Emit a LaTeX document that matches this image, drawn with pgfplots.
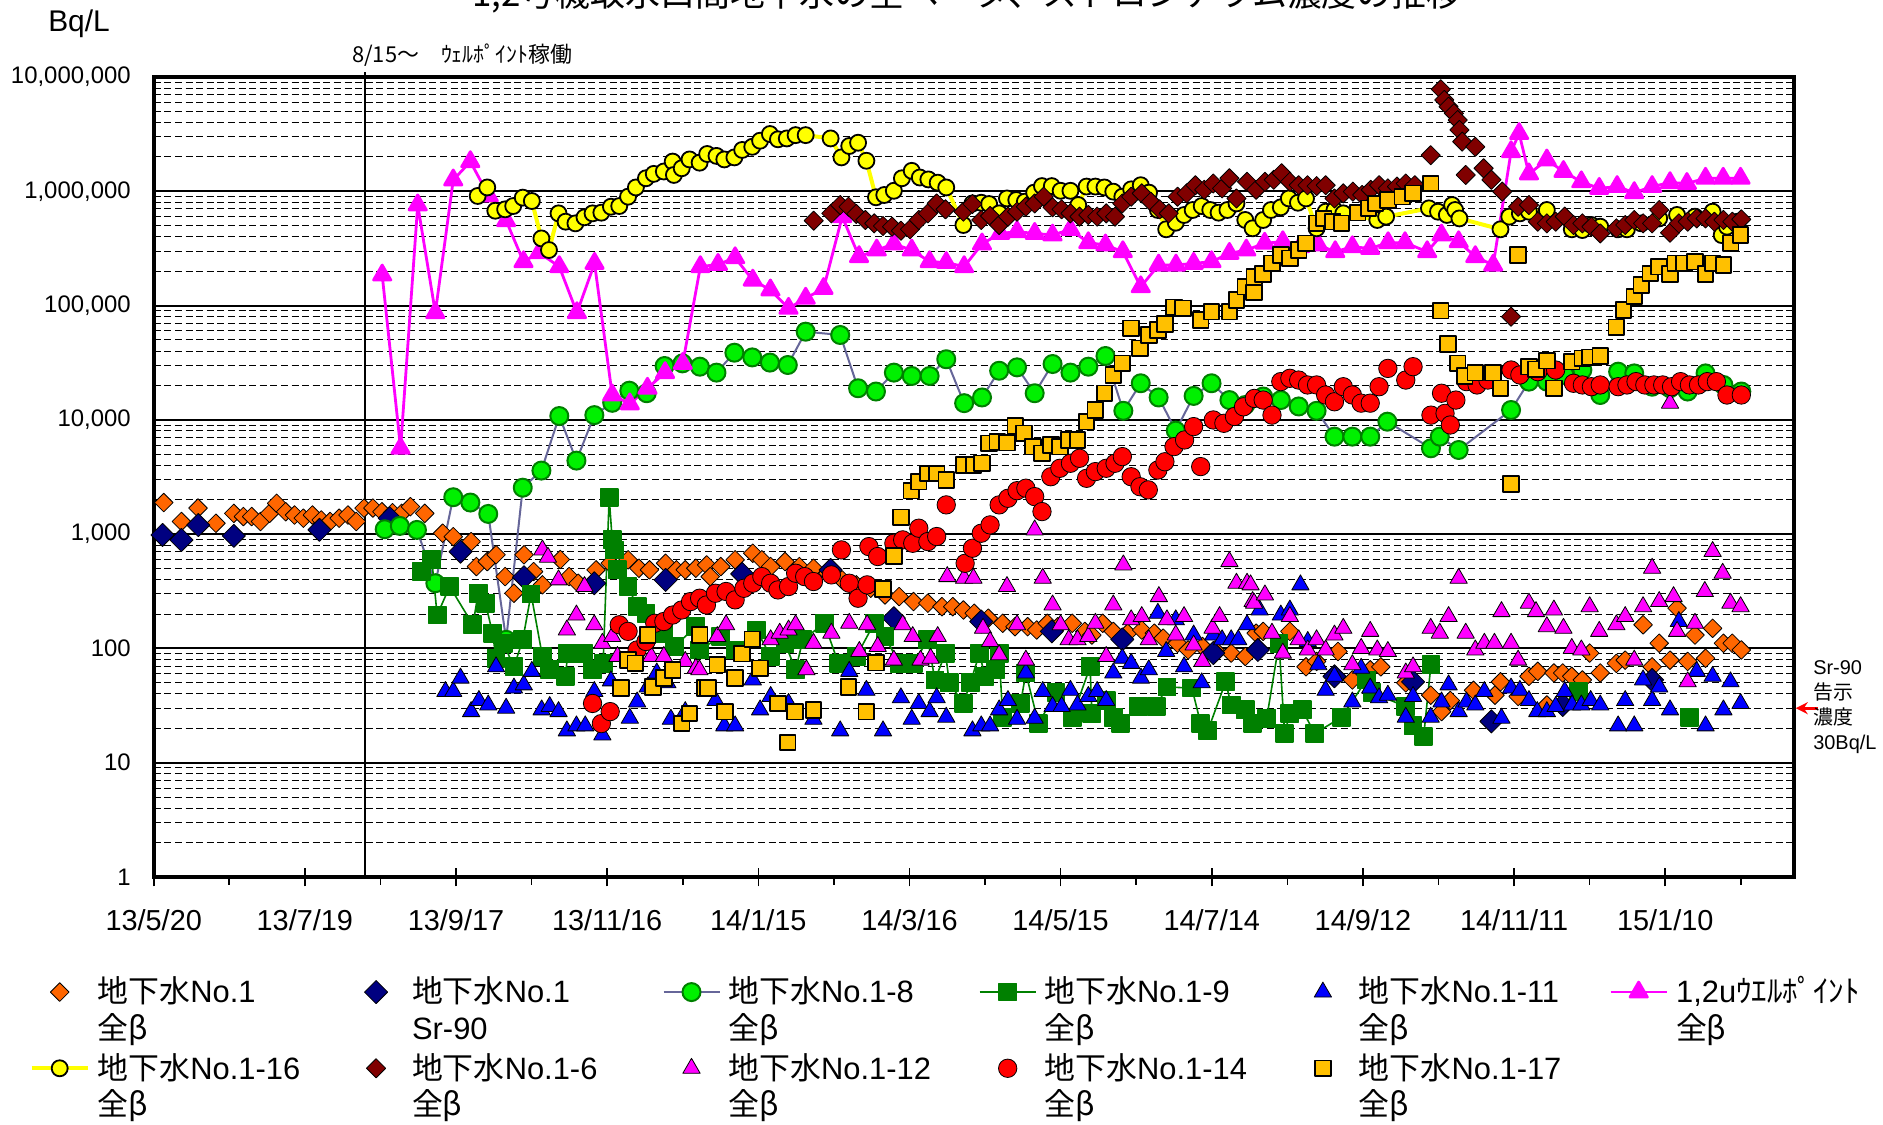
\documentclass[border=0pt]{standalone}
\usepackage{fontspec}
\setmainfont{Liberation Sans}
\newfontfamily\cjk{Noto Sans CJK JP}
\usepackage{pgfplots}
\pgfplotsset{compat=1.18}
\usetikzlibrary{arrows.meta}
\definecolor{cOrange}{RGB}{255,102,0}
\definecolor{cNavy}{RGB}{0,0,128}
\definecolor{cLime}{RGB}{0,240,0}
\definecolor{cSlate}{RGB}{102,102,153}
\definecolor{cDkGreen}{RGB}{0,128,0}
\definecolor{cBlue}{RGB}{0,0,255}
\definecolor{cMag}{RGB}{255,0,255}
\definecolor{cYel}{RGB}{255,255,0}
\definecolor{cMaroon}{RGB}{128,0,0}
\definecolor{cRed}{RGB}{255,0,0}
\definecolor{cGold}{RGB}{255,192,0}
\begin{document}
\begin{tikzpicture}
\begin{axis}[
  at={(0,0)}, anchor=south west,
  scale only axis, width=820bp, height=400bp,
  xmin=0, xmax=651, ymin=1, ymax=1e7, ymode=log, clip=false,
  xtick={0,60,...,600},
  xticklabels={13/5/20,13/7/19,13/9/17,13/11/16,14/1/15,14/3/16,14/5/15,14/7/14,14/9/12,14/11/11,15/1/10},
  extra x ticks={30,90,...,630}, extra x tick labels={},
  extra x tick style={xtick align=outside, major tick length=4bp},
  xtick pos=bottom, ytick pos=left,
  xtick align=center, major tick length=9.5bp,
  tick style={black, line width=0.8bp},
  ytick style={draw=none},
  ytick={1,10,100,1000,10000,100000,1000000,10000000},
  yticklabels={1,10,100,{1,000},{10,000},{100,000},{1,000,000},{10,000,000}},
  minor ytick={2,3,4,5,6,7,8,9,20,30,40,50,60,70,80,90,200,300,400,500,600,700,800,900,2000,3000,4000,5000,6000,7000,8000,9000,20000,30000,40000,50000,60000,70000,80000,90000,200000,300000,400000,500000,600000,700000,800000,900000,2000000,3000000,4000000,5000000,6000000,7000000,8000000,9000000},
  ymajorgrids, yminorgrids,
  major grid style={black, line width=1bp},
  minor grid style={black, line width=0.5bp, dash pattern=on 3.5bp off 1.8bp},
  axis line style={line width=2bp},
  xticklabel style={font=\fontsize{14.5}{17}\selectfont, yshift=-8bp},
  yticklabel style={font=\fontsize{12}{14}\selectfont, xshift=-8bp},
  legend columns=6,
  legend cell align=left,
  legend style={at={(-0.0756,-0.1245)}, anchor=north west, draw=none, fill=none,
    inner sep=0pt, outer sep=0pt, row sep=22.1bp, column sep=0pt,
    font=\fontsize{15.5}{18.5}\selectfont,
    nodes={inner sep=0pt, text width=125.2bp, align=left, anchor=base west},
    /tikz/every odd column/.append style={column sep=4bp}},
  legend image code/.code={\path[draw=none,fill=none] (0bp,-3bp) rectangle (28bp,13bp);
    \draw[mark repeat=2,mark phase=2,#1,yshift=5.4bp] plot coordinates {(0bp,0bp) (14bp,0bp) (28bp,0bp)};},
  every axis plot/.append style={line join=round},
]
% 1: No.1 all beta
\addplot[only marks, mark=square*, mark size=3.3bp, mark options={rotate=45, fill=cOrange, draw=none}] coordinates {
(4,1890) (11,1290) (17.6,1690) (24.7,1245) (31.8,1520) (35.6,1425) (38.9,1425) (42.4,1290) (46,1520) (48.8,1860) (52.4,1570) (55.9,1470) (59.4,1380) (63,1470) (66.5,1330) (70,1290) (73.6,1380) (77.1,1470) (80.4,1290) (83.5,1690) (87,1690) (90.6,1570) (94.8,1540) (98.4,1520) (101.9,1740) (107.6,1520) (114.7,1020) (118.9,950) (126,860) (128.1,520) (132.4,575) (135.9,660) (139.5,425) (143,304) (147,660) (150.8,470) (154.3,360) (161.4,600) (164.9,425) (168.5,372) (175.6,487) (181.2,556) (188.3,596) (192.6,503) (196.8,487) (203.2,556) (207.5,487) (211,487) (215.2,503) (219.5,538) (220.9,425) (225.1,520) (230.8,596) (237.8,681) (241.4,596) (244.9,520) (250.6,575) (256.3,520) (261.9,503) (267.6,455) (273.3,398) (278.9,360) (284.6,336) (290.3,294) (295.9,284) (301.6,257) (307.3,249) (312.9,232) (317.2,232) (321.4,217) (325.7,203) (331.3,184) (337,166) (341.9,155) (346.9,155) (350.5,145) (354.7,166) (358.9,155) (364.6,166) (369.6,141) (372.4,131) (376.7,166) (380.9,141) (386.6,136) (392.2,145) (397.2,136) (400.7,123) (406.4,111) (410.6,97) (416.3,104) (421.3,97) (427.7,91) (433.3,85) (437.6,136) (440.4,141) (451,141) (457.4,69) (461.6,77) (470.1,94) (475.8,53) (482.9,65) (487.1,69) (497,50) (506.9,39) (511.2,28) (514.7,35) (523.9,43) (532.4,39) (534.6,51) (541.6,38) (545.9,57) (549.4,63) (553,32) (555.8,61) (559.3,61) (562.9,57) (567.1,53) (570,91) (574.2,61) (580.6,74) (584.1,79) (591.2,161) (594.8,69) (597.6,111) (601.9,79) (604.7,225) (608.9,77) (611.8,131) (616,82) (618.8,150) (623.1,111) (626.6,111) (630.2,97)
};
\addlegendentry{{\cjk 地下水}No.1\\{\cjk 全β}}
% 2: No.1 Sr-90
\addplot[only marks, mark=square*, mark size=4.1bp, mark options={rotate=45, fill=cNavy, draw=none}] coordinates {
(3.5,985) (11,890) (17.7,1200) (31.8,966) (65.8,1090) (93.7,1377) (121.8,703) (147,420) (174.9,372) (203.2,398) (233.6,449) (268.7,486) (293.8,184) (328.5,172) (356.5,141) (384.5,120) (420.6,91) (438.3,97) (468.7,57) (499.9,51) (531,23) (559.3,32) (594.8,53)
};
\addlegendentry{{\cjk 地下水}No.1\\Sr-90}
% 3: No.1-8
\addplot[color=cSlate, line width=1bp, mark=*, mark size=4.5bp, mark options={fill=cLime, draw=cDkGreen, line width=1bp}] coordinates {
(91.7,1104) (97.7,1180) (104.5,1089) (111.8,372) (118.9,2104) (125.7,1890) (132.8,1503) (139.9,119) (146.5,2550) (153.9,3600) (161,10800) (167.8,4400) (174.9,11000) (182,14100) (188.8,18000) (195.7,17100) (202.8,29600) (209.9,31200) (216.8,29200) (223.4,25900) (230.5,38700) (237.6,35200) (244.6,31700) (251.7,30200) (258.8,59100) (272.5,55300) (279.6,18900) (286.7,17700) (293.8,25900) (300.9,24200) (308,24200) (314.6,33900) (321.7,14000) (328.8,15700) (335.6,26900) (342.7,28800) (349.7,17100) (356.8,30800) (363.9,25900) (371,29200) (377.8,36200) (384.9,12000) (391.8,20900) (398.9,15700) (405.7,8050) (412.8,16200) (419.9,20900) (427,14900) (433.3,13500) (440.4,16000) (447.4,14900) (454.5,13100) (461.6,12000) (468.7,7130) (475.8,7130) (482.9,7130) (489.7,9640) (507,5640) (510.5,7130) (518,5450) (538.8,12200) (545.9,21600) (553,21600) (560,24700) (567.1,27300) (574.2,16500) (581.3,26400) (587.7,25500) (594.8,19500) (601.9,18900) (608.9,17700) (616,25500) (623.1,20200) (630.2,17700)
};
\addlegendentry{{\cjk 地下水}No.1-8\\{\cjk 全β}}
% 4: No.1-9
\addplot[color=cDkGreen, line width=0.8bp, mark=square*, mark size=4.3bp, mark options={fill=cDkGreen, draw=none}, unbounded coords=jump] coordinates {
(106.2,471) (110.4,596) (112.5,196) (117.5,348) (126.7,161) (128.8,304) (131.7,249) (134.5,136) (135.9,82) (138.8,111) (143,69) (146.5,119) (149.8,300) (154.3,85) (157.2,65) (163.5,57) (164.3,91) (170.6,91) (174.2,65) (178.4,74) (180.8,2100) (182,891) (183,728) (184,487) (188.3,348) (191.9,232) (195.4,203) (202.5,136) (206.7,104) (215.2,155) (216.7,97) (225.1,127) (230.8,97) (239.3,145) (244.9,85) (250.6,111) (254.8,65) (257.7,119) (266.2,166) (271.8,74) (278.9,85) (286,166) (290.3,127) (295.9,74) (301.6,74) (307.3,119) (310.1,53) (314.3,91) (315.8,50) (321.4,33) (324.2,50) (327.8,91) (329.9,57) (334.2,65) (335.6,91) (337,25) (344.1,33) (346.2,61) (351.2,22) (358.2,41) (364.6,25) (371.7,69) (372.4,27) (378.1,35) (380.9,25) (383.7,22) (390.8,31) (397.9,31) (402.2,46) (412.1,45) (415.6,22) (418.4,19) (425.5,51) (427.7,32) (433.3,29) (436.2,22) (441.8,24.5) (446.7,111) (448.9,18) (451,27) (455.9,29) (460.9,18) (471.5,25) (481.4,53) (483.6,41) (497,31) (499.9,21) (504.1,17) (507,72) (530,nan) (565.7,42) (590,nan) (609.6,25)
};
\addlegendentry{{\cjk 地下水}No.1-9\\{\cjk 全β}}
% 5: No.1-11
\addplot[only marks, mark=triangle*, mark size=5bp, mark options={fill=cBlue, draw=none}] coordinates {
(115.8,42) (118.9,42) (121.8,55) (126,28) (129.1,35) (132.8,32) (135.9,69) (139.9,30) (143,45) (146.9,48) (150.1,63) (154,29) (157.2,31) (160.7,28) (164,19) (167.8,21) (171.3,21) (174.9,42) (178.1,17.5) (181.5,52) (189,24.5) (191.9,34) (196.1,46) (199.7,61) (203.9,50) (205.3,24) (211,28) (223,35) (226.5,21) (230.8,21) (237.8,53) (240.7,29) (244.9,38) (252,33) (261.9,24) (272.5,19) (276.1,63) (282.9,43) (289.5,19) (296.6,37) (300.9,24) (303.7,33) (308,28) (310.8,37) (314.6,25) (325,19) (328.5,21) (332,21) (335.6,29) (339.1,35) (342.7,24) (346.2,61) (349.7,24.5) (352.9,42) (356.8,31) (360.4,31) (363.9,43) (366.7,32) (371,38) (374.5,42) (378.1,35) (380.9,61) (384.5,82) (388,74) (391.9,55) (395,65) (398.6,203) (401.9,94) (405.7,178) (409,69) (412.8,131) (416,50) (420.6,131) (424.1,119) (427.7,119) (430.5,119) (434,161) (439,217) (447.4,196) (451,217) (455.2,360) (458.1,115) (462.3,72) (465.2,43) (468.7,57) (475.8,34) (479.3,67) (482.9,45) (486.4,37) (489.9,39) (497,25) (499.9,38) (506.9,25) (511.2,34) (514,48) (518,28) (521.1,34) (524.6,32) (528.2,42) (535,24.5) (538.8,45) (542.3,43) (545.9,35) (549.2,28) (553,28) (556.5,31) (560.1,42) (563,32) (566.7,32) (570.4,35) (574.2,32) (581.3,21) (584.1,35) (587.7,21) (591.2,53) (594.8,35) (597.6,46) (601.9,29) (605.4,172) (612.5,63) (616,21) (618.8,57) (623.1,29) (625.9,51) (629.9,33)
};
\addlegendentry{{\cjk 地下水}No.1-11\\{\cjk 全β}}
% 6: 1,2u well point
\addplot[color=cMag, line width=1.4bp, mark=triangle*, mark size=5bp, mark options={fill=cMag, draw=none}] coordinates {
(90.7,185000) (98,5640) (104.8,760000) (111.8,86700) (118.9,1256000) (125.7,1816000) (133,912000) (139.9,553000) (146.8,242000) (153,290000) (161,219000) (168,86700) (175,234000) (182,16500) (189,13800) (196,18900) (203,25900) (210,31200) (217,219000) (224,229000) (230.8,262000) (237.8,167000) (244.8,137000) (252,94600) (258.8,116000) (265.9,141000) (273.3,600000) (280,268000) (287,306000) (293.8,346000) (300.9,306000) (308,242000) (314.6,238000) (321.7,219000) (328.8,346000) (336,428000) (342.7,443000) (349.7,428000) (356.8,414000) (363.9,464000) (371,355000) (377.8,339000) (384.7,296000) (391.8,146000) (398.9,226000) (405.8,226000) (412.8,234000) (419.9,242000) (427,286000) (433.7,306000) (441,351000) (448.2,362000) (455,327000) (462.3,339000) (469,296000) (475.8,327000) (482.9,316000) (490,355000) (496.7,355000) (505.5,296000) (511.2,414000) (518,362000) (524.6,268000) (531.7,226000) (538.8,2220000) (542,3200000) (545.9,1420000) (553,1880000) (559.6,1490000) (566.7,1210000) (573.8,1060000) (580.9,1100000) (587.7,973000) (594.8,1100000) (601.9,1190000) (608.6,1170000) (616,1300000) (623,1300000) (629.9,1300000)
};
\addlegendentry{1,2u{\cjk ｳｴﾙﾎﾟｲﾝﾄ}\\{\cjk 全β}}
% 7: No.1-16
\addplot[color=cYel, line width=2bp, mark=*, mark size=4bp, mark options={fill=cYel, draw=black, line width=0.9bp}] coordinates {
(128.6,910000) (132.4,1080000) (135.6,676000) (139.5,695000) (142.7,743000) (146.5,880000) (150.1,822000) (153.9,387000) (156.9,306000) (160.7,641000) (163.5,542000) (167.4,524000) (171,592000) (174.2,641000) (177.7,650000) (181.5,733000) (184.8,743000) (188.3,897000) (191.4,1080000) (195.4,1300000) (198.5,1420000) (202.5,1490000) (206,1820000) (206.5,1390000) (209.6,1590000) (212.7,1900000) (216.7,1780000) (219.7,2120000) (223.4,2040000) (226.5,1900000) (230.5,1980000) (233.6,2300000) (237.6,2450000) (240.7,2770000) (244.6,3170000) (247.8,2850000) (251.3,2900000) (254.8,3100000) (258.8,3100000) (268.7,2900000) (273,1980000) (276.1,2490000) (279.6,2660000) (282.9,1850000) (286.7,886000) (290,928000) (293.8,1010000) (297,1300000) (300.9,1510000) (304.1,1320000) (307.5,1270000) (311.2,1190000) (314.6,1080000) (321.4,507000) (325,783000) (328.5,794000) (331.6,774000) (335.6,641000) (338.7,866000) (342.4,839000) (345.8,811000) (349.5,973000) (352.6,1110000) (356.5,1110000) (360,1010000) (363.9,1010000) (367,758000) (370.3,1100000) (373.8,1100000) (377.4,1080000) (380.9,993000) (384.5,897000) (388,1040000) (391.8,1130000) (395.1,973000) (398.6,686000) (401.9,465000) (405.7,531000) (409,620000) (412.4,686000) (416,743000) (419.4,686000) (422.7,650000) (426.2,686000) (429.8,783000) (433.3,561000) (436.2,474000) (440.4,561000) (443.5,686000) (447.4,724000) (450.6,866000) (454.2,794000) (457.4,866000) (461.6,474000) (465.2,663000) (468.7,686000) (472.2,641000) (485.7,561000) (489.2,600000) (506.2,709000) (509.8,663000) (513.3,621000) (515.4,758000) (516.6,686000) (518.3,579000) (534.6,465000) (538.1,600000) (542.3,641000) (545.9,663000) (553,686000) (562.9,465000) (567.1,458000) (570.7,507000) (574.2,490000) (581.3,465000) (584.8,465000) (590.5,524000) (597.6,579000) (604.7,621000) (611.8,600000) (618.8,663000) (622.4,414000) (624.5,490000) (628.8,542000)
};
\addlegendentry{{\cjk 地下水}No.1-16\\{\cjk 全β}}
% 8: No.1-6
\addplot[only marks, mark=square*, mark size=3.4bp, mark options={rotate=45, fill=cMaroon, draw=none}] coordinates {
(262,553000) (269,641000) (272.5,758000) (275.8,733000) (278.9,633000) (282.5,561000) (286,524000) (289.5,497000) (293.1,490000) (296.6,452000) (300.2,465000) (303.7,561000) (307.3,641000) (310.8,783000) (314.3,695000) (321.4,663000) (325,774000) (328.5,561000) (332,608000) (335.6,507000) (339.1,600000) (342.7,663000) (346.2,733000) (349.7,783000) (353.3,897000) (356.8,724000) (360.4,695000) (363.9,641000) (367.5,600000) (371,621000) (374.5,600000) (378.1,641000) (381.6,600000) (384.5,783000) (388,897000) (392.2,959000) (395.8,811000) (399.3,695000) (402.9,641000) (406.4,897000) (410,959000) (413.5,1130000) (417,1030000) (420.6,1170000) (424.1,1060000) (427,1300000) (429.8,866000) (434,1210000) (437.6,1030000) (441.1,1210000) (444.6,1260000) (447.7,1440000) (451,1210000) (454.5,1130000) (458,1130000) (461.6,1110000) (465.2,1130000) (468.7,866000) (472.2,959000) (476,993000) (479.7,929000) (483.1,1030000) (486.4,1130000) (489.9,1060000) (493.5,1100000) (497,1170000) (500.6,1130000) (506.9,2070000) (510.9,7800000) (512.3,6300000) (514,5500000) (516.1,4810000) (517.6,4200000) (518.3,3440000) (519.4,2720000) (520.8,1390000) (524.6,2450000) (527.9,1590000) (531,1260000) (535.3,993000) (538.8,80000) (541.6,733000) (545.9,758000) (549.4,542000) (553,524000) (556.5,542000) (560.1,600000) (563.6,507000) (567.1,524000) (570.7,490000) (574.2,428000) (580.6,474000) (584.1,507000) (587.7,561000) (591.2,524000) (594.8,524000) (597.6,686000) (601.9,434000) (605.4,524000) (608.9,542000) (612.5,579000) (616,579000) (619.5,542000) (623.1,561000) (626.6,542000) (630.2,569000)
};
\addlegendentry{{\cjk 地下水}No.1-6\\{\cjk 全β}}
% 9: No.1-12
\addplot[only marks, mark=triangle*, mark size=5bp, mark options={fill=cMag, draw=none}] coordinates {
(154.3,728) (156.5,628) (160.7,398) (164,145) (167.8,196) (171,348) (174.9,161) (178.1,111) (182,127) (184.1,85) (197.5,85) (202.5,85) (211,77) (215.2,67) (216.6,65) (223.7,127) (227.2,161) (244.9,119) (248.5,136) (252,145) (254.8,161) (259.1,65) (261.9,111) (269,136) (276.1,166) (280.1,94) (283.2,161) (287.4,104) (293.8,79) (297.3,161) (301.3,127) (304.4,79) (308.4,82) (311.2,127) (315,425) (321.7,411) (325.4,411) (329.2,150) (332,115) (335.6,88) (338.7,348) (342.7,161) (346.2,79) (349.7,1089) (352.9,411) (356.8,240) (360,161) (363.2,119) (366.7,119) (371,127) (373.8,166) (378.1,85) (380.9,240) (384.9,538) (388,178) (392.2,190) (395,119) (399,284) (402.2,178) (405.7,131) (409,190) (412.8,107) (416.3,77) (420.3,150) (423.1,190) (427,575) (429.8,372) (434,372) (436.2,257) (435.4,360) (436.8,249) (441.1,294) (443.9,136) (448.2,91) (451,190) (454.5,119) (458.1,97) (461.6,119) (465.2,97) (468.7,131) (472.2,150) (475.8,72) (479.3,100) (482.9,141) (485.7,97) (489.9,94) (497,61) (499.9,69) (506.9,150) (510.5,136) (514,190) (518,411) (520.8,136) (524.6,97) (528.2,111) (532.2,111) (535,210) (538.8,111) (541.6,79) (545.9,249) (548.7,210) (553,155) (555.8,217) (559.6,150) (562.9,100) (566.7,97) (570,232) (573.8,141) (580.6,161) (584.1,190) (587.7,79) (591.2,232) (594.8,503) (597.6,257) (601.9,14000) (603.3,284) (604.7,141) (608.9,51) (611.8,166) (615.7,315) (618.8,705) (622.8,455) (625.9,249) (629.9,232)
};
\addlegendentry{{\cjk 地下水}No.1-12\\{\cjk 全β}}
% 10: No.1-14
\addplot[only marks, mark=*, mark size=4.6bp, mark options={fill=cRed, draw=none}] coordinates {
(174.2,33) (177.7,22) (181.2,28) (184.8,161) (188.3,141) (191.9,97) (195.4,115) (198.9,166) (202.5,172) (206,196) (209.6,217) (213.1,257) (216.7,275) (219.4,240) (223,304) (227.2,315) (230.8,266) (234.3,336) (237.8,372) (241.4,425) (244.9,372) (247.8,325) (252,348) (254.8,455) (258.4,425) (261.9,385) (269,440) (273,728) (276.1,372) (279.6,275) (283.2,360) (283.9,778) (287.4,637) (293.8,832) (297.3,891) (301.3,832) (303.7,1127) (307.3,861) (310.8,953) (314.6,1803) (322.1,556) (325,753) (328.5,1019) (332,1205) (335.6,1803) (339.1,2060) (342.7,2400) (346.2,2523) (349.7,2130) (352.6,1575) (356.1,3180) (359.7,3770) (363.9,4170) (367.5,4610) (370.3,3080) (373.8,3525) (378.1,3770) (381.6,4170) (384.5,4770) (388,3180) (391.5,2600) (394.8,2440) (398.6,3640) (401.4,4300) (405,5830) (409.2,6670) (412.8,8730) (415.6,3900) (420.6,9980) (424.8,9330) (429,10700) (432.6,13000) (436.9,15400) (440.4,14900) (443.9,11000) (447.4,21600) (451,23100) (454.5,22300) (458,20200) (461.6,20200) (465.2,16500) (468.7,14400) (472.2,19500) (475.8,16500) (479.3,14000) (482.9,14000) (486.4,19500) (489.9,28200) (497,22300) (499.9,29200) (507,11000) (511.2,17100) (512.6,11400) (514.7,9020) (516.9,14900) (521.1,21600) (525.3,20200) (529.6,22300) (538.8,27300) (542.3,24700) (549.4,26400) (556.5,27300) (563.6,20900) (567.1,20200) (570.7,19500) (574.2,20200) (581.3,19500) (584.8,20200) (588.4,21600) (591.9,20200) (595.5,20200) (599,20200) (602.5,19500) (606.1,21600) (609.6,20200) (613.2,20200) (616.7,21600) (620.3,21600) (624.5,16500) (630.2,16500)
};
\addlegendentry{{\cjk 地下水}No.1-14\\{\cjk 全β}}
% 11: No.1-17
\addplot[only marks, mark=square*, mark size=3.9bp, mark options={fill=cGold, draw=black, line width=0.9bp}] coordinates {
(185.5,45) (188.3,79) (191.2,74) (196.1,131) (198.2,46) (202.5,55) (206,65) (209.6,22) (212.7,27) (216.7,131) (218.8,45) (220.1,45) (223.7,72) (226.8,28) (230.8,55) (233.6,90) (237.6,120) (240.7,67) (247.8,33) (251.7,15) (254.6,28) (261.9,29) (275.8,46) (282.9,28) (286.7,75) (289.5,330) (293.8,646) (296.6,1406) (300.7,2400) (303.7,2880) (307.3,3400) (310.8,3400) (314.6,2980) (321.7,4030) (325.4,4030) (328.8,4170) (331.6,6240) (334.9,6440) (338.7,6310) (342,8830) (345.5,7620) (349,5830) (352.6,5100) (356.1,6030) (359.7,5830) (363.2,6670) (366.7,6670) (370.3,9640) (373.8,12200) (377.4,17100) (380.9,24700) (384.5,31300) (388,63200) (391.5,42300) (395.1,55300) (398.6,61100) (401.4,69000) (405,96600) (408.6,94600) (415.6,74800) (419.9,88500) (427,88500) (429.8,112000) (433.3,146000) (436.8,130000) (436.9,179000) (440.4,189000) (443.9,234000) (447.4,277000) (451,259000) (454.5,306000) (457.4,351000) (461.6,524000) (464.4,579000) (468,542000) (471.5,524000) (477.9,650000) (482.2,709000) (485,783000) (490,839000) (495.6,897000) (499.9,959000) (506.9,1170000) (510.9,90200) (513.7,46100) (517.6,31200) (520.4,24200) (524.6,25900) (531.7,25900) (534.6,18900) (538.8,2750) (541.6,277000) (545.9,29200) (548.7,27700) (553,33000) (555.8,18900) (562.9,32300) (567.1,34500) (570,35200) (574.2,36200) (580.6,64600) (583.4,91400) (587.7,120000) (590.5,151000) (594.1,191000) (597.6,219000) (601.9,189000) (604,234000) (607.5,234000) (611.8,242000) (616,189000) (618.8,234000) (623.1,226000) (626,351000) (629.9,414000)
};
\addlegendentry{{\cjk 地下水}No.1-17\\{\cjk 全β}}
% annotations
\draw[black, line width=1bp] (axis cs:84,1) -- ([yshift=2.5bp]axis cs:84,1e7);
\draw[cRed, line width=1.5bp, -{Stealth[length=6bp,width=6bp]}] ([xshift=12bp]axis cs:651,30) -- ([xshift=1bp]axis cs:651,30);
\end{axis}
\node[anchor=base, font=\cjk\fontsize{17.5}{20}\selectfont] at (406.6bp,435.3bp) {1,2号機取水口間地下水の全ベータ、ストロンチウム濃度の推移};
\node[anchor=west, inner sep=0pt, font=\fontsize{15}{18}\selectfont] at (-52.9bp,426.5bp) {Bq/L};
\node[anchor=west, inner sep=0pt, font=\cjk\fontsize{11}{13}\selectfont] at (99bp,411bp) {8/15～　ｳｪﾙﾎﾟｲﾝﾄ稼働};
\node[anchor=west, inner sep=0pt, align=left, font=\fontsize{10}{12.5}\selectfont] at (829.6bp,85bp) {Sr-90\\{\cjk 告示}\\{\cjk 濃度}\\30Bq/L};
\pgfresetboundingbox
\useasboundingbox (-76.85bp,-124bp) rectangle (864.65bp,438.5bp);
\end{tikzpicture}
\end{document}
